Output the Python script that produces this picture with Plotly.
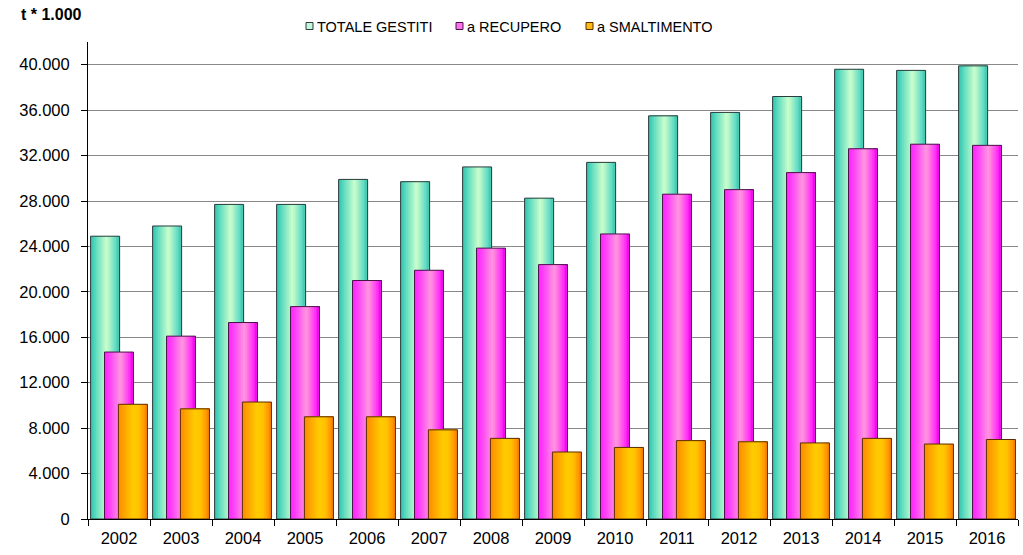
import plotly.graph_objects as go

# ---------------- data ----------------
years = [str(y) for y in range(2002, 2017)]
totale_gestiti = [24900, 25800, 27700, 27700, 29900, 29700, 31000, 28250, 31400,
                  35500, 35800, 37200, 39600, 39500, 39900]
a_recupero = [14700, 16100, 17300, 18700, 21000, 21900, 23850, 22400, 25100,
              28600, 29000, 30500, 32600, 33000, 32900]
a_smaltimento = [10100, 9700, 10300, 9000, 9000, 7850, 7100, 5900, 6300,
                 6900, 6800, 6700, 7100, 6600, 7000]
series_names = ["TOTALE GESTITI", "a RECUPERO", "a SMALTIMENTO"]
y_tick_values = list(range(0, 40001, 4000))
y_tick_labels = [f"{v:,}".replace(",", ".") for v in y_tick_values]
unit_label = "t * 1.000"

# ---------------- style ----------------
W, H = 1023, 555
ML, MR, MT, MB = 88, 5, 42, 36
FONT = "Liberation Sans, Arial, sans-serif"

def hex2rgb(h):
    h = h.lstrip("#")
    return tuple(int(h[i:i + 2], 16) for i in (0, 2, 4))

def grad(stops, t):
    for (t0, c0), (t1, c1) in zip(stops[:-1], stops[1:]):
        if t0 <= t <= t1:
            a = (t - t0) / (t1 - t0) if t1 > t0 else 0
            r0, r1 = hex2rgb(c0), hex2rgb(c1)
            return "rgb(%d,%d,%d)" % tuple(round(r0[k] + (r1[k] - r0[k]) * a) for k in range(3))
    return stops[-1][1]

styles = [
    dict(stops=[(0, "#33c0a8"), (0.15, "#55d8c0"), (0.55, "#ccffcc"), (0.85, "#66dcc4"), (1, "#40c8b0")],
         line="#2a3c3c", offset=-0.458, legend_fill="#c6f7dc"),
    dict(stops=[(0, "#ff22ff"), (0.2, "#ff44f8"), (0.55, "#ff99dd"), (0.85, "#ff33f4"), (1, "#ee00ee")],
         line="#4a1448", offset=-0.234, legend_fill="#ff70ee"),
    dict(stops=[(0, "#ff8a00"), (0.5, "#ffcc00"), (0.7, "#ffc400"), (1, "#ff8000")],
         line="#5a2c00", offset=-0.010, legend_fill="#ffbb10"),
]
BAR_W = 0.468
N_STRIPS = 16

fig = go.Figure()
values = [totale_gestiti, a_recupero, a_smaltimento]
for name, vals, st in zip(series_names, values, styles):
    for i in range(N_STRIPS):
        t = (i + 0.5) / N_STRIPS
        fig.add_trace(go.Bar(
            x=years, y=vals,
            offset=st["offset"] + i * BAR_W / N_STRIPS,
            width=BAR_W - i * BAR_W / N_STRIPS,
            marker=dict(color=grad(st["stops"], t), line=dict(width=0)),
            showlegend=False, hoverinfo="skip", name=name,
        ))
    fig.add_trace(go.Bar(
        x=years, y=vals, offset=st["offset"], width=BAR_W, name=name,
        marker=dict(color="rgba(0,0,0,0)", line=dict(color=st["line"], width=1)),
        showlegend=False,
    ))

# ---------------- layout ----------------
PW, PH = W - ML - MR, H - MT - MB

def px_x(px):  # page pixel -> paper
    return (px - ML) / PW

def px_y(py):
    return (H - MB - py) / PH

shapes = []
annotations = [dict(
    text="<b>" + unit_label + "</b>", xref="paper", yref="paper",
    x=px_x(19), y=px_y(14), xanchor="left", yanchor="middle", showarrow=False,
    font=dict(family=FONT, size=16, color="black"),
)]
legend_sq_x = [306, 456, 586]
for name, st, sx in zip(series_names, styles, legend_sq_x):
    shapes.append(dict(type="rect", xref="paper", yref="paper",
                       x0=px_x(sx), x1=px_x(sx + 7), y0=px_y(29.5), y1=px_y(22.5),
                       fillcolor=st["legend_fill"], line=dict(color=st["line"], width=1)))
    annotations.append(dict(text=name, xref="paper", yref="paper",
                            x=px_x(sx + 9), y=px_y(26.5), xanchor="left", yanchor="middle",
                            showarrow=False, font=dict(family=FONT, size=14.5, color="black")))

fig.update_layout(
    width=W, height=H,
    margin=dict(l=ML, r=MR, t=MT, b=MB),
    barmode="overlay",
    paper_bgcolor="white", plot_bgcolor="white",
    font=dict(family=FONT, size=16, color="black"),
    showlegend=False,
    shapes=shapes, annotations=annotations,
    xaxis=dict(type="category", range=[-0.5, 14.5], showline=True, linecolor="black",
               linewidth=1, ticks="outside", tickson="boundaries", ticklen=6,
               tickcolor="black", showgrid=False, ticklabelstandoff=4,
               tickfont=dict(size=16.5, family=FONT)),
    yaxis=dict(range=[0, 42000], tickvals=y_tick_values, ticktext=y_tick_labels,
               showgrid=True, gridcolor="#888888", gridwidth=1, showline=True,
               linecolor="black", linewidth=1, ticks="outside", ticklen=6,
               tickcolor="black", zeroline=False, ticklabelstandoff=8,
               tickfont=dict(size=16.5, family=FONT)),
)

fig.write_html("out.html", config={"displayModeBar": False},
               post_script="document.body.style.margin='0';")
